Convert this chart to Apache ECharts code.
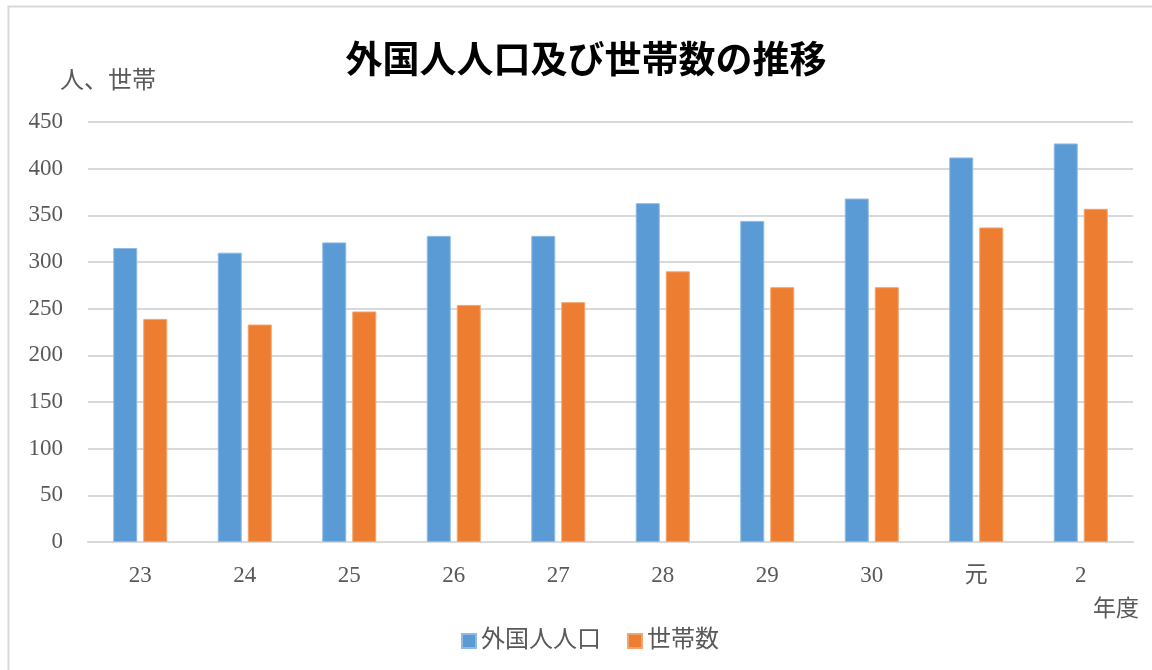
<!DOCTYPE html>
<html>
<head>
<meta charset="utf-8">
<script src="https://cdn.jsdelivr.net/npm/echarts@6/dist/echarts.min.js"></script>
<style>
	html, body { margin: 0; padding: 0; background: #fff; }
	#chart { width: 1152px; height: 670px; }
</style>
</head>
<body>
<div id="chart"></div>
<script>
	//年度
	var years = ["23", "24", "25", "26", "27", "28", "29", "30", "元", "2"];
	//外国人人口
	var population = [315, 310, 321, 328, 328, 363, 344, 368, 412, 427];
	//世帯数
	var households = [239, 233, 247, 254, 257, 290, 273, 273, 337, 357];
	//Y軸目盛
	var yTicks = { min: 0, max: 450, interval: 50 };

	var serif = '"Liberation Serif", "Noto Sans CJK JP", serif';
	var labelColor = "#595959";

	var chart = echarts.init(document.getElementById("chart"));
	var option = {
		animation: false,
		backgroundColor: "#ffffff",
		title: {
			text: "外国人人口及び世帯数の推移",
			left: 581,
			textAlign: "center",
			top: 35,
			textStyle: {
				fontFamily: '"Noto Sans CJK JP", sans-serif',
				fontSize: 37,
				fontWeight: "bold",
				color: "#000000",
			},
		},
		graphic: [
			{
				type: "rect",
				shape: { x: 8.5, y: 6.5, width: 1160, height: 700 },
				style: { fill: null, stroke: "#d9d9d9", lineWidth: 2 },
				silent: true,
			},
		],
		legend: {
			data: ["外国人人口", "世帯数"],
			left: 456,
			top: 624,
			icon: "rect",
			itemWidth: 14,
			itemHeight: 14,
			itemGap: 26,
			textStyle: {
				fontFamily: serif,
				fontSize: 24,
				color: labelColor,
			},
		},
		grid: {
			left: 88,
			right: 19,
			top: 122,
			bottom: 128,
		},
		xAxis: {
			type: "category",
			data: years,
			name: "年度",
			nameLocation: "end",
			nameGap: 6,
			nameTextStyle: {
				fontFamily: serif,
				fontSize: 23,
				color: labelColor,
				align: "right",
				verticalAlign: "top",
				padding: [56, 0, 0, 0],
			},
			axisLine: { lineStyle: { color: "#d9d9d9", width: 2 } },
			axisTick: { show: false },
			axisLabel: {
				margin: 22,
				fontFamily: serif,
				fontSize: 23,
				color: labelColor,
			},
		},
		yAxis: {
			type: "value",
			min: yTicks.min,
			max: yTicks.max,
			interval: yTicks.interval,
			name: "人、世帯",
			nameLocation: "end",
			nameGap: 28,
			nameTextStyle: {
				fontFamily: serif,
				fontSize: 24,
				color: labelColor,
				align: "left",
				padding: [0, 0, 0, -28],
			},
			axisLine: { show: false },
			axisTick: { show: false },
			axisLabel: {
				margin: 25,
				fontFamily: serif,
				fontSize: 23,
				color: labelColor,
			},
			splitLine: { lineStyle: { color: "#d9d9d9", width: 2 } },
		},
		series: [
			{
				name: "外国人人口",
				type: "bar",
				data: population,
				barWidth: 24,
				barGap: "25%",
				itemStyle: { color: "#5b9bd5", borderColor: "#8fbbe3", borderWidth: 1 },
			},
			{
				name: "世帯数",
				type: "bar",
				data: households,
				barWidth: 24,
				itemStyle: { color: "#ed7d31", borderColor: "#f2a46e", borderWidth: 1 },
			},
		],
	};
	chart.setOption(option);
</script>
</body>
</html>
